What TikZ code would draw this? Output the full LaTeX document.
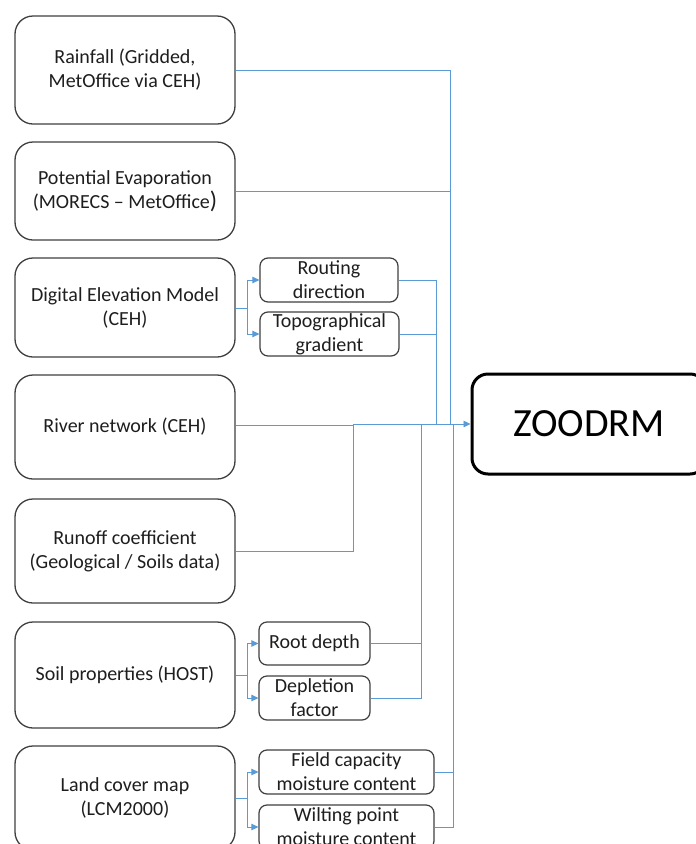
\documentclass[tikz,border=0pt]{standalone}
\usepackage{fontspec}
\setmainfont{Carlito}
\usetikzlibrary{arrows.meta}
\definecolor{linkblue}{HTML}{5B9BD5}
\definecolor{boxgray}{HTML}{3F3F3F}
\definecolor{txt}{HTML}{1E1E1E}
\begin{document}
\begin{tikzpicture}[x=1pt,y=-1pt,
  srcbox/.style={draw=boxgray,line width=1.3pt,rounded corners=18pt,
    minimum width=220pt,align=center,inner sep=0pt,text=txt,
    font=\fontsize{20}{24}\selectfont},
  subbox/.style={draw=boxgray,line width=1.2pt,rounded corners=8pt,
    minimum height=44pt,align=center,inner sep=0pt,text=txt,
    font=\fontsize{20}{24}\selectfont},
  mainbox/.style={draw=black,line width=3pt,rounded corners=16pt,
    minimum width=234pt,minimum height=100pt,inner sep=0pt,
    font=\fontsize{40}{44}\selectfont},
  link/.style={draw=linkblue,line width=0.75pt},
  feed/.style={link,-{Triangle[length=7pt,width=6.5pt]}}
]
\clip (0,0) rectangle (696,844);
\fill[white] (0,0) rectangle (696,844);

% data sources
\node[srcbox,minimum height=108pt] (rain)   at (125,70)    {Rainfall (Gridded,\\MetOffice via CEH)};
\node[srcbox,minimum height=98pt]  (pe)     at (125,191)   {Potential Evaporation\\(MORECS -- MetOffice{\fontsize{24}{24}\selectfont )}};
\node[srcbox,minimum height=99pt]  (dem)    at (125,307.5) {Digital Elevation Model\\(CEH)};
\node[srcbox,minimum height=104pt] (river)  at (125,427)   {River network (CEH)};
\node[srcbox,minimum height=104pt] (runoff) at (125,551)   {Runoff coefficient\\(Geological / Soils data)};
\node[srcbox,minimum height=106pt] (soil)   at (125,675)   {Soil properties (HOST)};
\node[srcbox,minimum height=104pt] (land)   at (125,798)   {Land cover map\\(LCM2000)};

% derived parameters
\node[subbox,minimum width=138pt] (routing) at (329,280)   {Routing\\direction};
\node[subbox,minimum width=139pt] (topo)    at (329.5,334) {Topographical\\gradient};
\node[subbox,minimum width=111pt,minimum height=43pt] (root) at (314.5,643.5) {Root depth};
\node[subbox,minimum width=111pt] (depl)    at (314.5,698) {Depletion\\factor};
\node[subbox,minimum width=175pt] (field)   at (346.5,772) {Field capacity\\moisture content};
\node[subbox,minimum width=175pt] (wilt)    at (346.5,827) {Wilting point\\moisture content};

% model
\node[mainbox] (zoodrm) at (589,424) {ZOODRM};

% bus junctions
\coordinate (busA) at (353,424);
\coordinate (busB) at (421,424);
\coordinate (busC) at (436,424);
\coordinate (busD) at (450,424);
\coordinate (busE) at (453,424);
\coordinate (forkDem)  at (247,308);
\coordinate (forkSoil) at (247,675);
\coordinate (forkLand) at (247,798);

% forks into derived parameters
\draw[link] (dem.east |- forkDem) -- (forkDem);
\draw[feed] (forkDem) |- (routing.west);
\draw[feed] (forkDem) |- (topo.west);
\draw[link] (soil.east |- forkSoil) -- (forkSoil);
\draw[feed] (forkSoil) |- (root.west);
\draw[feed] (forkSoil) |- (depl.west);
\draw[link] (land.east |- forkLand) -- (forkLand);
\draw[feed] (forkLand) |- (field.west);
\draw[feed] (forkLand) |- (wilt.west);

% collectors into the model
\draw[link] (rain.east) -| (busD);
\draw[link] (pe.east) -- (pe.east -| busD);
\draw[link] (routing.east) -| (busC);
\draw[link] (topo.east) -- (topo.east -| busC);
\draw[link] ([yshift=2pt]river.east) -- ([yshift=2pt]river.east -| busA);
\draw[link] (runoff.east) -| (busA);
\draw[link] (root.east) -| (busB);
\draw[link] (depl.east) -| (busB);
\draw[link] (field.east) -| (busE);
\draw[link] (wilt.east) -| (busE);
\draw[feed] (busA) -- (zoodrm.west);
\end{tikzpicture}
\end{document}
